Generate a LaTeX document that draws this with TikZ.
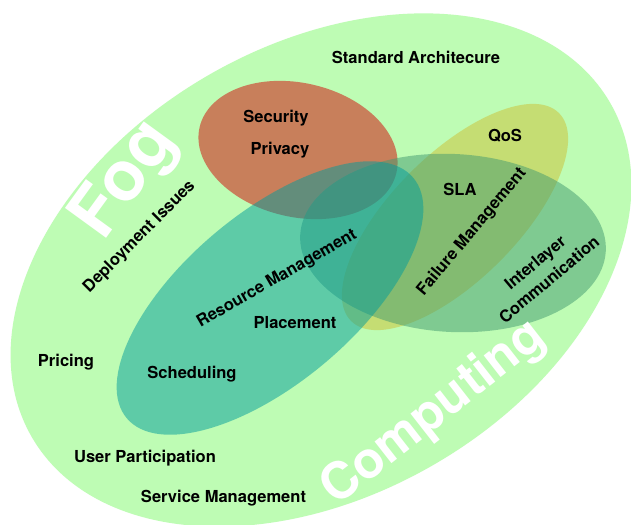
\documentclass[tikz,border=0pt]{standalone}
\usepackage{fontspec}
\setmainfont{TeX Gyre Heros}
\definecolor{bigc}{RGB}{190,252,180}
\definecolor{redc}{RGB}{210,4,4}
\definecolor{tealc}{RGB}{0,156,156}
\definecolor{yelc}{RGB}{204,192,52}
\definecolor{grnc}{RGB}{66,154,112}
\tikzset{
  blob/.style={opacity=0.5},
  lbl/.style={font=\fontsize{16.6}{20}\selectfont\bfseries, text=black, inner sep=0pt, align=center},
  big/.style={font=\fontsize{#1}{#1}\selectfont\bfseries, text=white, inner sep=0pt, anchor=base west}
}
\begin{document}
\begin{tikzpicture}[x=1bp,y=-1bp]
\useasboundingbox (0,0) rectangle (631,525);
\clip (0,0) rectangle (631,525);
\fill[white] (0,0) rectangle (631,525);
% main field
\fill[bigc, rotate around={30:(321,270)}] (321,270) ellipse [x radius=334, y radius=225];
% overlapping topics
\fill[redc, blob, rotate around={-13:(298,150)}] (298,150) ellipse [x radius=101, y radius=67];
\fill[yelc, blob, rotate around={45:(455,217)}] (455,217) ellipse [x radius=147, y radius=63];
\fill[grnc, blob, rotate around={-3:(453,243)}] (453,243) ellipse [x radius=153, y radius=89];
\fill[tealc, blob, rotate around={40:(270,298)}] (270,298) ellipse [x radius=187, y radius=85];
% big titles
\node[big=70, rotate=54] (fog) at (103,243) {Fog};
\node[big=51, rotate=38] (comp) at (336,507) {Computing};
% labels
\node[lbl] (std) at (416,57) {Standard Architecure};
\node[lbl] (sec) at (276,118) {Security};
\node[lbl] (priv) at (280,150) {Privacy};
\node[lbl] (qos) at (505,136) {QoS};
\node[lbl] (sla) at (460,189) {SLA};
\node[lbl, rotate=50] (fail) at (472,232) {Failure Management};
\node[lbl, rotate=40] (inter) at (542,271) {Interlayer\\[2pt]Communication};
\node[lbl, rotate=45] (dep) at (139.5,237) {Deployment Issues};
\node[lbl, rotate=30] (res) at (277,279) {Resource Management};
\node[lbl] (place) at (295,323) {Placement};
\node[lbl] (sched) at (192,374) {Scheduling};
\node[lbl] (price) at (66,362) {Pricing};
\node[lbl] (user) at (145,458) {User Participation};
\node[lbl] (serv) at (223.5,498) {Service Management};
\end{tikzpicture}
\end{document}
